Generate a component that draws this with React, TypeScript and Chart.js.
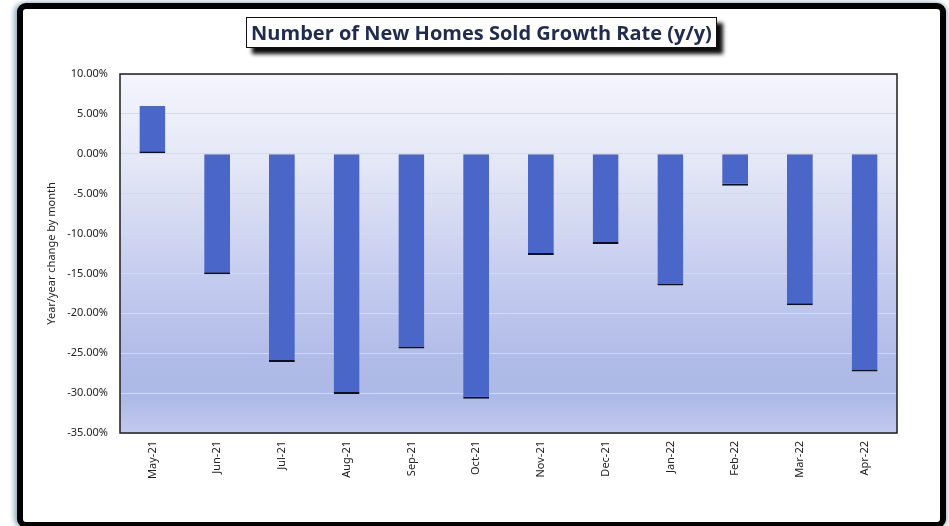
import React, { useEffect, useRef } from "react";
import { Chart, registerables } from "chart.js";

Chart.register(...registerables);

const categories = ["May-21", "Jun-21", "Jul-21", "Aug-21", "Sep-21", "Oct-21", "Nov-21", "Dec-21", "Jan-22", "Feb-22", "Mar-22", "Apr-22"];
const growthRates = [6.0, -15.1, -26.1, -30.1, -24.4, -30.7, -12.7, -11.3, -16.5, -4.0, -19.0, -27.3];
const yMin = -35;
const yMax = 10;
const yStep = 5;
const titleText = "Number of New Homes Sold Growth Rate (y/y)";
const yAxisTitle = "Year/year change by month";

const plotBackground = {
  id: "plotBackground",
  beforeDraw(chart: any) {
    const { ctx, chartArea } = chart;
    if (!chartArea) return;
    const g = ctx.createLinearGradient(0, chartArea.top, 0, chartArea.bottom);
    g.addColorStop(0, "#f4f5fc");
    g.addColorStop(0.25, "#e4e7f6");
    g.addColorStop(0.55, "#c6cdef");
    g.addColorStop(0.8, "#b0bbe7");
    g.addColorStop(0.9, "#adb9e6");
    g.addColorStop(1, "#c2caee");
    ctx.save();
    ctx.fillStyle = g;
    ctx.fillRect(chartArea.left, chartArea.top, chartArea.right - chartArea.left, chartArea.bottom - chartArea.top);
    ctx.restore();
  },
  afterDatasetsDraw(chart: any) {
    const { ctx, chartArea } = chart;
    ctx.save();
    ctx.strokeStyle = "#1e1e1e";
    ctx.lineWidth = 1.5;
    ctx.strokeRect(chartArea.left, chartArea.top, chartArea.right - chartArea.left, chartArea.bottom - chartArea.top);
    ctx.restore();
  },
};

export default function App() {
  const canvasRef = useRef<HTMLCanvasElement | null>(null);

  useEffect(() => {
    document.body.style.margin = "0";
    const canvas = canvasRef.current;
    if (!canvas) return;
    const chart = new Chart(canvas, {
      type: "bar",
      data: {
        labels: categories,
        datasets: [
          {
            data: growthRates,
            backgroundColor: "#4b66c9",
            borderColor: "#111111",
            borderWidth: { top: 0, left: 0, right: 0, bottom: 2 } as any,
            borderSkipped: false,
            barPercentage: 0.4,
            categoryPercentage: 1,
          },
        ],
      },
      options: {
        responsive: false,
        animation: false,
        devicePixelRatio: 1,
        layout: { padding: { left: 40, top: 74, right: 52, bottom: 33 } },
        plugins: {
          legend: { display: false },
          tooltip: { enabled: false },
          title: { display: false },
        },
        scales: {
          x: {
            grid: { display: false, drawTicks: false },
            border: { display: false },
            ticks: {
              autoSkip: false,
              maxRotation: 90,
              minRotation: 90,
              padding: 8,
              color: "#222",
              font: { family: "'Noto Sans', sans-serif", size: 11 },
            },
            afterFit(scale: any) {
              scale.height = 60;
            },
          },
          y: {
            min: yMin,
            max: yMax,
            ticks: {
              stepSize: yStep,
              padding: 12,
              color: "#222",
              font: { family: "'Noto Sans', sans-serif", size: 11 },
              callback: (v: any) => Number(v).toFixed(2) + "%",
            },
            grid: { color: "#d8dae0", lineWidth: 1, drawTicks: false },
            border: { display: false },
            title: {
              display: true,
              text: yAxisTitle,
              color: "#222",
              font: { family: "'Noto Sans', sans-serif", size: 11 },
              padding: { top: 5, bottom: 0 },
            },
            afterFit(scale: any) {
              scale.width = 80;
            },
          },
        },
      },
      plugins: [plotBackground],
    });
    return () => chart.destroy();
  }, []);

  return (
    <div style={{ position: "absolute", left: 0, top: 0, width: 949, height: 526, overflow: "hidden", background: "#ffffff" }}>
      <div
        style={{
          position: "absolute",
          left: 17,
          top: 3,
          width: 929,
          height: 525,
          boxSizing: "border-box",
          border: "6px solid #000",
          borderRadius: 9,
          background: "#ffffff",
          boxShadow: "-3px 0 5px rgba(80,130,150,0.6), 2px 0 4px rgba(80,130,150,0.4)",
        }}
      />
      <canvas ref={canvasRef} width={949} height={526} style={{ position: "absolute", left: 0, top: 0, width: 949, height: 526 }} />
      <div
        style={{
          position: "absolute",
          left: 246,
          top: 17,
          width: 471,
          height: 31,
          boxSizing: "border-box",
          border: "1.5px solid #111",
          background: "#ffffff",
          boxShadow: "6px 6px 4px rgba(0,0,0,0.95)",
          display: "flex",
          alignItems: "center",
          justifyContent: "center",
          fontFamily: "'Open Sans', sans-serif",
          fontWeight: 700,
          fontSize: 20,
          color: "#1f2b4f",
          whiteSpace: "nowrap",
          overflow: "hidden",
        }}
      >
        {titleText}
      </div>
    </div>
  );
}
